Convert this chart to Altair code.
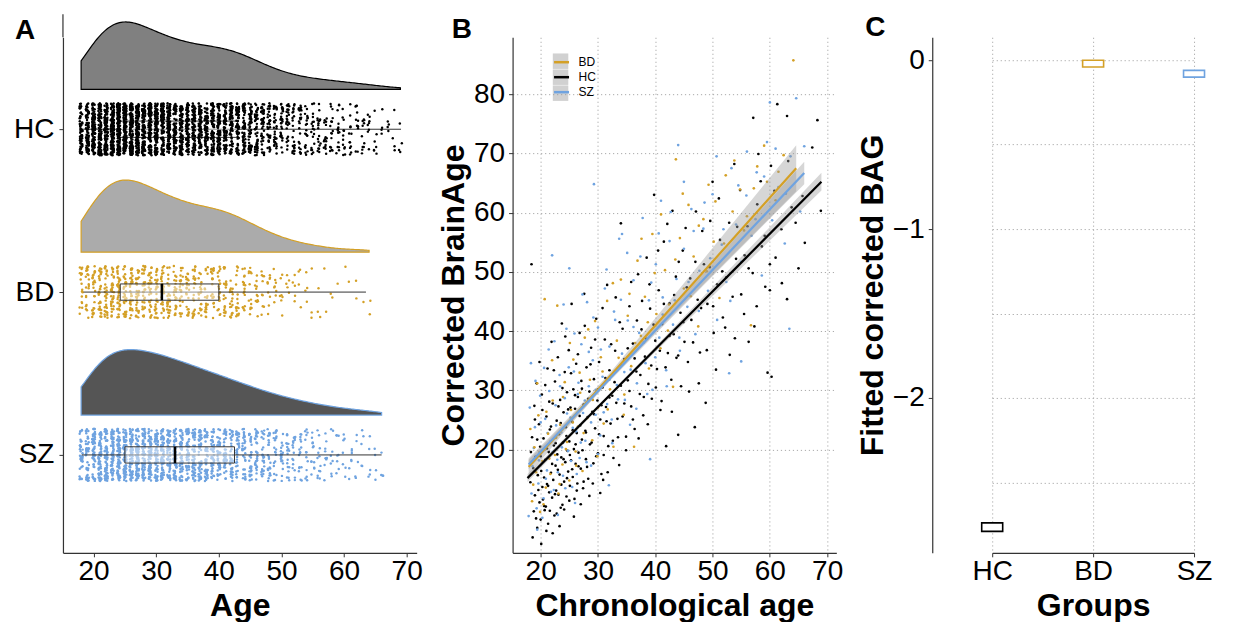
import math
import altair as alt
import pandas as pd

# ---------------- data ----------------
GROUPS = ["HC", "BD", "SZ"]
COLORS = ["#000000", "#D4A026", "#6FA3E0"]
DENS_FILL = ["#808080", "#ABABAB", "#555555"]
LANE = {"HC": 3, "BD": 2, "SZ": 1}

# Panel A: number of participants per (integer) age
hc_ages = list(range(18, 70))
hc_counts = [61, 77, 92, 105, 117, 126, 130, 130, 126, 117,
             112, 105, 101, 96, 92, 88, 84, 81, 80, 77,
             77, 76, 76, 73, 72, 68, 61, 57, 51, 45,
             39, 35, 31, 27, 24, 23, 20, 19, 19, 16,
             16, 15, 12, 12, 11, 11, 8, 7, 4, 4,
             4, 4]
bd_ages = list(range(18, 65))
bd_counts = [18, 22, 26, 30, 33, 35, 36, 36, 35, 34,
             31, 30, 29, 27, 26, 25, 23, 22, 22, 21,
             21, 21, 20, 20, 18, 17, 16, 13, 12, 10,
             9, 8, 7, 5, 5, 4, 4, 3, 3, 2,
             2, 1, 1, 1, 2, 1, 2]
sz_ages = list(range(18, 67))
sz_counts = [37, 47, 55, 62, 67, 71, 72, 72, 72, 71,
             68, 67, 66, 64, 62, 59, 58, 54, 52, 49,
             47, 46, 42, 41, 37, 35, 34, 30, 29, 25,
             24, 22, 20, 18, 17, 16, 13, 12, 12, 10,
             8, 8, 7, 7, 5, 5, 5, 4, 4]

# Panel A boxplot statistics (HC, BD, SZ)
box_q1 = [24.0, 24.25, 25.0]
box_med = [32.0, 30.9, 33.0]
box_q3 = [43.0, 40.0, 42.5]
box_min = [18.0, 18.4, 18.1]
box_max = [69.1, 63.5, 66.0]

# Panel B: (chronological age, corrected brain age)
hc_pairs = [(18.2,14.5),(18.4,51.3),(18.5,22.1),(18.8,9.6),(18.9,27.4),(19.0,12.3),(19.1,18.8),(19.3,31.2),
 (19.4,6.8),(19.5,15.7),(19.7,24.3),(19.8,11.1),(19.9,20.5),(20.0,8.2),(20.1,16.4),(20.2,29.3),(20.3,13.7),
 (20.5,21.9),(20.6,10.5),(20.7,9.8),(20.8,18.3),(20.9,10.4),(21.0,25.6),(21.1,14.2),(21.2,33.7),(21.3,7.5),
 (21.4,19.6),(21.5,12.8),(21.6,23.4),(21.8,16.1),(21.9,38.2),(22.0,11.9),(22.1,27.8),(22.2,14.9),(22.3,20.7),
 (22.4,8.9),(22.5,31.5),(22.6,17.3),(22.7,13.1),(22.8,24.9),(22.9,19.2),(23.0,35.6),(23.1,12.4),(23.2,22.6),
 (23.3,15.8),(23.4,28.4),(23.5,10.2),(23.6,18.7),(23.7,41.3),(23.8,10.7),(23.9,21.2),(24.0,26.3),(24.1,14.6),
 (24.2,33.1),(24.3,17.9),(24.4,23.8),(24.5,12.1),(24.6,29.7),(24.7,19.8),(24.8,16.3),(24.9,36.8),(25.0,21.4),
 (25.1,13.9),(25.2,27.1),(25.3,18.2),(25.4,44.6),(25.5,24.7),(25.6,15.4),(25.7,30.2),(25.8,20.1),(25.9,11.7),
 (26.0,26.9),(26.1,17.6),(26.2,34.5),(26.3,22.8),(26.4,14.3),(26.5,28.9),(26.6,19.5),(26.8,39.7),(26.9,24.1),
 (27.0,16.8),(27.1,31.6),(27.2,21.7),(27.4,13.5),(27.5,27.6),(27.6,46.3),(27.8,23.2),(27.9,18.4),(28.0,33.9),
 (28.2,25.5),(28.3,15.1),(28.5,29.8),(28.6,20.9),(28.8,37.2),(29.0,26.4),(29.2,17.7),(29.3,31.9),(29.5,23.6),
 (29.7,42.1),(29.9,28.3),(30.0,19.4),(30.2,34.8),(30.4,25.1),(30.6,15.9),(30.8,30.5),(30.9,14.9),(31.0,22.3),
 (31.2,38.6),(31.4,27.2),(31.6,47.8),(31.8,20.6),(32.0,33.4),(32.2,24.4),(32.5,29.1),(32.7,18.6),(33.0,36.7),
 (33.2,27.9),(33.5,22.1),(33.8,41.5),(34.0,58.2),(34.0,30.8),(34.3,25.6),(34.6,35.3),(34.9,19.9),(35.2,31.7),
 (35.5,44.2),(35.8,27.3),(36.1,37.9),(36.4,23.5),(36.7,33.2),(37.0,49.6),(37.3,29.4),(37.6,40.3),(37.9,25.8),
 (38.2,35.7),(38.5,52.4),(38.8,31.1),(39.1,43.8),(39.4,28.6),(39.8,63.0),(40.0,38.4),(40.3,33.6),(40.6,46.9),
 (40.9,26.7),(41.2,41.2),(41.5,55.1),(41.9,20.6),(42.2,36.3),(42.5,44.7),(42.8,31.8),(43.0,60.3),(43.2,39.5),
 (43.6,49.2),(44.0,22.5),(44.0,35.9),(44.4,43.1),(44.8,53.6),(45.1,38.2),(45.5,47.4),(45.9,29.8),(46.3,41.9),
 (46.9,23.8),(47.0,51.7),(47.4,45.3),(47.8,36.4),(48.2,56.9),(48.8,27.9),(49.1,44.6),(49.5,50.8),(50.0,65.2),
 (50.2,39.7),(50.8,47.9),(51.3,55.4),(51.8,42.3),(52.4,49.1),(53.0,36.0),(53.8,68.2),(53.9,38.8),(54.3,57.6),
 (55.0,46.2),(55.6,52.8),(56.3,38.2),(56.3,50.6),(57.1,76.0),(57.3,40.8),(57.8,61.4),(58.0,69.9),(58.6,54.3),
 (59.2,47.5),(59.6,33.0),(60.0,51.3),(60.0,46.9),(60.3,32.3),(60.8,63.7),(61.3,78.3),(62.0,57.2),(63.0,76.3),
 (63.0,45.4),(63.8,60.9),(65.0,50.6),(65.7,62.8),(67.4,71.0),(68.3,75.6),(68.9,60.3),
 (18.3,19.6),(18.6,5.2),(18.7,16.9),(19.0,25.1),(19.2,8.4),(19.4,21.7),(19.6,13.2),(19.8,34.8),(20.0,18.9),(20.1,4.1),
 (20.3,26.7),(20.4,11.6),(20.6,15.3),(20.8,30.9),(21.0,6.3),(21.1,20.2),(21.3,13.9),(21.5,28.1),(21.6,9.7),(21.8,23.9),
 (22.0,17.6),(22.1,5.9),(22.3,33.4),(22.5,12.5),(22.6,21.1),(22.8,9.2),(23.0,16.6),(23.1,27.3),(23.3,7.1),(23.5,24.5),
 (23.6,14.1),(23.8,30.4),(24.0,18.4),(24.1,9.9),(24.3,39.1),(24.5,22.3),(24.6,15.2),(24.8,26.8),(25.0,11.4),(25.1,19.1),
 (25.3,32.9),(25.5,16.7),(25.6,23.3),(25.8,8.7),(26.0,29.2),(26.1,20.9),(26.3,13.1),(26.5,36.1),(26.6,17.2),(26.8,25.7),
 (27.0,10.8),(27.2,30.3),(27.3,19.9),(27.5,14.6),(27.7,40.9),(27.9,22.9),(28.1,17.1),(28.3,28.6),(28.5,12.2),(28.7,34.4),
 (28.9,21.2),(29.1,14.3),(29.3,26.0),(29.5,38.6),(29.7,18.9),(30.0,30.2),(30.2,22.6),(30.4,12.7),(30.6,27.5),(30.8,43.9),
 (31.0,19.1),(31.3,32.1),(31.5,24.8),(31.7,16.2),(32.0,28.8),(32.3,37.8),(32.6,21.5),(32.9,31.4),(33.1,45.7),(33.4,25.2),
 (33.7,17.4),(34.0,34.2),(34.3,40.4),(34.6,27.8),(34.9,22.2),(35.2,37.1),(35.5,29.9),(35.8,48.3),(36.1,25.1),(36.4,35.4),
 (36.8,41.8),(37.1,21.9),(37.4,32.6),(37.7,45.1),(38.0,28.9),(38.4,38.7),(38.7,24.3),(39.0,47.9),(39.3,34.2),(39.7,41.1),
 (40.1,30.5),(40.5,53.6),(40.8,36.7),(41.1,28.2),(41.5,44.6),(41.8,33.9),(42.1,58.1),(42.5,39.2),(42.9,26.4),(43.3,46.1),
 (43.7,35.5),(44.1,51.7),(44.5,30.7),(44.9,41.5),(45.3,57.4),(45.7,34.8),(46.1,48.9),(46.6,38.1),(47.1,60.2),(47.6,31.2),
 (48.0,43.9),(48.5,51.3),(49.0,36.8),(49.6,58.6),(50.1,44.2),(50.6,33.5),(51.1,62.4),(51.7,50.1),(52.2,40.6),(52.9,58.3),
 (53.5,45.8),(54.1,52.2),(54.8,63.8),(55.5,42.9),(56.1,57.7),(57.0,49.8),(57.7,44.2),(58.4,65.3),(59.1,56.1),(60.2,67.9),
 (61.0,52.4),(62.1,48.1),(63.2,68.7),(64.5,58.3),(66.1,54.9)]
bd_pairs = [(18.5,11.3),(18.9,20.4),(19.2,16.2),(19.6,25.8),(19.9,9.5),(20.3,18.1),(20.7,45.4),(20.9,13.6),
 (21.3,22.7),(21.7,15.9),(22.1,28.3),(22.5,19.1),(22.9,44.3),(23.1,12.6),(23.4,24.2),(23.8,17.5),(24.2,31.4),
 (24.6,21.3),(25.0,14.8),(25.3,26.7),(25.7,35.2),(26.1,19.7),(26.5,23.9),(26.9,29.6),(27.3,16.4),(27.7,38.9),
 (28.1,25.3),(28.6,31.8),(29.0,21.6),(29.5,41.7),(30.0,27.1),(30.5,35.6),(31.0,24.4),(31.6,45.1),(32.1,30.2),
 (32.7,20.5),(33.3,38.4),(34.0,48.7),(34.6,29.3),(35.2,42.6),(35.8,34.1),(36.3,20.5),(36.9,51.9),(37.5,39.2),
 (38.2,45.8),(38.9,33.7),(39.5,56.4),(40.2,42.9),(40.9,37.1),(41.7,50.3),(42.4,44.5),(43.1,30.6),(43.6,69.0),
 (44.3,55.7),(45.0,47.2),(45.8,61.3),(46.7,52.6),(47.5,40.8),(48.4,58.9),(49.3,64.7),(50.2,55.1),(51.2,45.6),
 (52.3,66.3),(53.5,60.2),(54.8,63.9),(56.0,59.4),(56.7,41.0),(57.8,67.8),(59.5,65.2),(61.0,62.1),(62.4,69.7),
 (64.1,85.7),
 (18.2,23.5),(18.7,14.1),(19.4,31.2),(19.8,19.6),(20.5,10.8),(21.0,26.4),(21.5,18.5),(22.0,35.1),(22.7,22.0),(23.3,14.2),
 (23.9,28.9),(24.4,20.1),(25.1,38.0),(25.6,24.6),(26.2,17.3),(26.8,33.0),(27.5,22.8),(28.3,40.3),(29.1,28.4),(29.9,18.9),
 (30.8,33.2),(31.7,26.8),(32.6,48.1),(33.6,35.5),(34.5,25.9),(35.5,46.3),(36.5,38.0),(37.6,55.6),(38.7,41.5),(39.9,49.8),
 (41.0,59.7),(42.2,40.1),(43.5,52.1),(44.8,63.2),(46.2,45.9),(47.6,57.8),(49.0,50.1),(50.5,61.9),(52.0,54.8),(53.8,68.8),
 (55.5,57.0),(57.2,64.1),(59.0,71.3),(61.5,66.9)]
sz_pairs = [(17.9,8.8),(18.3,34.6),(18.6,17.2),(19.0,23.8),(19.4,6.5),(19.6,14.3),(19.9,29.1),(20.2,19.7),
 (20.5,11.8),(20.8,25.2),(21.1,16.5),(21.4,36.9),(21.7,21.4),(22.0,52.8),(22.3,13.2),(22.6,27.5),(22.9,18.3),
 (23.0,9.0),(23.3,32.6),(23.6,22.9),(23.9,15.6),(24.2,28.7),(24.5,40.4),(24.8,19.8),(25.0,50.6),(25.2,25.4),
 (25.5,13.7),(25.8,33.2),(26.0,11.0),(26.2,23.1),(26.5,29.4),(26.8,18.6),(27.1,37.8),(27.4,26.2),(27.8,21.5),
 (28.1,44.9),(28.4,30.7),(28.8,17.3),(29.1,35.1),(29.3,64.8),(29.6,25.9),(30.0,40.6),(30.4,22.4),(30.8,32.3),
 (31.2,47.2),(31.6,27.7),(31.9,14.0),(32.0,37.4),(32.4,25.1),(32.8,43.3),(33.3,30.9),(33.7,55.6),(34.2,56.4),
 (34.2,36.2),(34.7,28.4),(35.2,41.8),(35.7,33.5),(36.2,48.6),(36.7,26.9),(37.2,39.7),(37.8,59.1),(38.3,34.6),
 (38.9,45.2),(39.1,18.4),(39.5,30.1),(40.1,51.3),(40.7,38.9),(41.0,62.0),(41.3,45.7),(41.9,33.4),(42.5,55.2),
 (43.1,41.1),(43.7,48.8),(44.0,71.4),(44.3,36.7),(45.0,53.9),(45.6,44.1),(46.3,60.6),(47.0,39.5),(47.7,50.2),
 (48.4,57.3),(49.2,46.8),(50.0,63.1),(50.8,41.9),(51.6,54.6),(52.4,48.3),(52.9,32.9),(53.3,67.5),(54.1,58.0),
 (55.0,34.9),(55.0,51.7),(55.9,62.9),(56.8,56.1),(57.7,66.8),(58.6,49.4),(59.5,71.9),(60.0,78.6),(60.4,58.7),
 (61.5,64.3),(62.6,54.8),(63.4,40.4),(63.6,69.5),(64.6,79.3),(65.3,60.2),(66.0,71.2),
 (18.1,27.1),(18.4,12.6),(18.8,20.3),(19.1,31.6),(19.3,10.1),(19.7,18.2),(20.0,24.6),(20.3,8.5),(20.6,33.8),(20.9,15.1),
 (21.2,22.8),(21.5,29.9),(21.8,12.9),(22.1,19.6),(22.4,38.3),(22.7,24.1),(23.0,16.2),(23.4,30.7),(23.7,20.4),(24.0,44.5),
 (24.3,13.5),(24.6,26.1),(24.9,33.9),(25.3,18.1),(25.6,23.7),(25.9,39.6),(26.3,15.9),(26.6,31.3),(27.0,21.2),(27.3,46.2),
 (27.7,28.3),(28.0,17.9),(28.4,36.5),(28.8,24.6),(29.2,42.3),(29.6,30.1),(30.0,19.2),(30.5,36.9),(31.0,26.3),(31.5,50.4),
 (32.0,31.8),(32.5,21.1),(33.0,41.9),(33.5,28.5),(34.0,45.3),(34.6,33.1),(35.1,53.2),(35.6,24.2),(36.2,40.7),(36.8,31.2),
 (37.4,52.6),(38.0,38.1),(38.6,29.4),(39.3,48.2),(40.0,35.6),(40.6,56.5),(41.3,42.8),(42.0,30.7),(42.7,60.1),(43.4,45.2),
 (44.2,38.9),(45.0,65.2),(45.8,48.3),(46.7,56.9),(47.6,43.4),(48.6,61.7),(49.6,52.3),(50.7,69.5),(51.9,57.2),(53.1,45.1),
 (54.5,64.6),(56.0,70.3),(57.5,58.9),(59.0,66.1),(61.0,70.8),(62.8,63.2)]

# Panel B: fitted lines and 95% bands
fit_bd_x = [17.9, 25, 32, 40, 48, 56, 64.6]
fit_bd_y = [17.1, 24.76, 32.31, 40.95, 49.58, 58.21, 67.49]
fit_bd_hw = [1.44, 0.75, 0.55, 1.22, 2.07, 2.95, 3.9]
fit_hc_x = [17.7, 25, 32, 40, 48, 56, 69.0]
fit_hc_y = [15.2, 22.32, 29.14, 36.94, 44.74, 52.54, 65.22]
fit_hc_hw = [0.64, 0.41, 0.30, 0.44, 0.70, 1.0, 1.5]
fit_sz_x = [17.9, 25, 32, 40, 48, 56, 66.0]
fit_sz_y = [17.5, 24.76, 31.92, 40.11, 48.29, 56.48, 66.7]
fit_sz_hw = [0.8, 0.51, 0.40, 0.62, 0.98, 1.38, 1.9]

# Panel C: fitted corrected BAG (box low / high)
c_low = [-2.79, -0.04, -0.10]
c_high = [-2.74, 0.0, -0.06]

# ---------------- tables ----------------
def _frac(v):
    return v - math.floor(v)

rows = []
i = 0
for g, ages, counts in [("HC", hc_ages, hc_counts), ("BD", bd_ages, bd_counts), ("SZ", sz_ages, sz_counts)]:
    for a, c in zip(ages, counts):
        for _ in range(c):
            jx = (_frac(math.sin(i * 12.9898 + 1.7) * 43758.5453) - 0.5) * 0.5
            jy = (_frac(math.sin(i * 78.233 + 4.1) * 43758.5453) - 0.5) * 0.32
            rows.append({"group": g, "age": a, "ax": a + jx, "ay": LANE[g] + jy})
            i += 1
ptsA = pd.DataFrame(rows)

boxA = pd.DataFrame({"group": GROUPS, "q1": box_q1, "med": box_med, "q3": box_q3,
                     "lo": box_min, "hi": box_max, "lane": [LANE[g] for g in GROUPS]})

ptsB = pd.concat([
    pd.DataFrame(hc_pairs, columns=["age", "ba"]).assign(group="HC"),
    pd.DataFrame(sz_pairs, columns=["age", "ba"]).assign(group="SZ"),
    pd.DataFrame(bd_pairs, columns=["age", "ba"]).assign(group="BD"),
], ignore_index=True)

fitB = pd.concat([
    pd.DataFrame({"fx": fit_bd_x, "fy": fit_bd_y, "hw": fit_bd_hw, "group": "BD"}),
    pd.DataFrame({"fx": fit_hc_x, "fy": fit_hc_y, "hw": fit_hc_hw, "group": "HC"}),
    pd.DataFrame({"fx": fit_sz_x, "fy": fit_sz_y, "hw": fit_sz_hw, "group": "SZ"}),
], ignore_index=True)
fitB["band"] = fitB["group"]

dfC = pd.DataFrame({"group": GROUPS, "low": c_low, "high": c_high})

# ---------------- panel A ----------------
xsA = alt.Scale(domain=[15.1, 71.6], nice=False, zero=False)
ysA = alt.Scale(domain=[0.399, 3.565], nice=False, zero=False)
axA_x = alt.Axis(values=[20, 30, 40, 50, 60, 70], grid=False, title="Age", labelPadding=1, titlePadding=5)
axA_y = alt.Axis(values=[1, 2, 3], grid=False, title=None, labelPadding=5,
                 labelExpr="datum.value == 3 ? 'HC' : datum.value == 2 ? 'BD' : 'SZ'")

DENS_SCALE = 10.5
layersA = []
for gi, g in enumerate(GROUPS):
    ages = {"HC": hc_ages, "BD": bd_ages, "SZ": sz_ages}[g]
    base = LANE[g] + 0.245
    layersA.append(
        alt.Chart(ptsA[ptsA.group == g][["age"]])
        .transform_density("age", as_=["dx", "dens"], extent=[min(ages), max(ages)], bandwidth=2.7, steps=200)
        .transform_calculate(ytop=f"{base} + datum.dens * {DENS_SCALE}", ybase=f"{base}")
        .mark_area(fill=DENS_FILL[gi], stroke=COLORS[gi], strokeWidth=1.2)
        .encode(x=alt.X("dx:Q", scale=xsA, axis=axA_x), y=alt.Y("ytop:Q", scale=ysA, axis=axA_y), y2="ybase:Q")
    )

def box_layers(df):
    whisk = alt.Chart(df).mark_rule(color="#333333", strokeWidth=1).encode(
        x=alt.X("lo:Q", scale=xsA, axis=axA_x), x2="hi:Q", y=alt.Y("lane:Q", scale=ysA, axis=axA_y))
    box = alt.Chart(df).transform_calculate(b0="datum.lane - 0.05", b1="datum.lane + 0.05").mark_bar(
        fill="#FFFFFF", fillOpacity=0.45, stroke="#333333", strokeWidth=1).encode(
        x=alt.X("q1:Q", scale=xsA, axis=axA_x), x2="q3:Q", y=alt.Y("b0:Q", scale=ysA, axis=axA_y), y2="b1:Q")
    med = alt.Chart(df).transform_calculate(b0="datum.lane - 0.05", b1="datum.lane + 0.05").mark_rule(
        color="#000000", strokeWidth=2.5).encode(
        x=alt.X("med:Q", scale=xsA, axis=axA_x), y=alt.Y("b0:Q", scale=ysA, axis=axA_y), y2="b1:Q")
    return [whisk, box, med]

ptsA_layer = alt.Chart(ptsA).mark_circle(size=6, opacity=1).encode(
    x=alt.X("ax:Q", scale=xsA, axis=axA_x), y=alt.Y("ay:Q", scale=ysA, axis=axA_y),
    color=alt.Color("group:N", scale=alt.Scale(domain=GROUPS, range=COLORS), legend=None))

axis_ext = alt.Chart(pd.DataFrame({"x": [15.1], "y": [3.565], "y2": [3.706]})).mark_rule(
    color="#333333", strokeWidth=1.2).encode(
    x=alt.X("x:Q", scale=xsA, axis=axA_x), y=alt.Y("y:Q", scale=ysA, axis=axA_y), y2="y2:Q")

A = alt.layer(*layersA, *box_layers(boxA[boxA.group == "HC"]), ptsA_layer,
              *box_layers(boxA[boxA.group != "HC"]), axis_ext).properties(
    width=354, height=516,
    title=alt.TitleParams("A", anchor="start", frame="group", dx=-48, offset=-53, fontSize=28,
                          fontWeight="bold", baseline="alphabetic"))

# ---------------- panel B ----------------
xsB = alt.Scale(domain=[15.1, 71.6], nice=False, zero=False)
ysB = alt.Scale(domain=[2.6, 89.6], nice=False, zero=False)
axB_x = alt.Axis(values=[20, 30, 40, 50, 60, 70], grid=True, title="Chronological age", labelPadding=1, titlePadding=5)
axB_y = alt.Axis(values=[20, 30, 40, 50, 60, 70, 80], grid=True, title="Corrected BrainAge", labelPadding=4, titlePadding=3)

ptsB_layer = alt.Chart(ptsB).mark_circle(size=7, opacity=1).encode(
    x=alt.X("age:Q", scale=xsB, axis=axB_x), y=alt.Y("ba:Q", scale=ysB, axis=axB_y),
    color=alt.Color("group:N", scale=alt.Scale(domain=GROUPS, range=COLORS), legend=None))

LEG_X, LEG_Y = 490, 16
band_layer = alt.Chart(fitB).transform_calculate(lo="datum.fy - datum.hw", up="datum.fy + datum.hw").mark_area(
    fillOpacity=0.4).encode(
    x=alt.X("fx:Q", scale=xsB, axis=axB_x), y=alt.Y("lo:Q", scale=ysB, axis=axB_y), y2="up:Q",
    detail="group:N",
    fill=alt.Fill("band:N", scale=alt.Scale(domain=["BD", "HC", "SZ"], range=["#999999", "#999999", "#999999"]),
                  legend=alt.Legend(orient="none", legendX=LEG_X, legendY=LEG_Y, title=None, symbolType="square",
                                    symbolSize=240, symbolStrokeWidth=0, symbolOpacity=0.45, labelExpr="''",
                                    labelFontSize=12, labelOffset=8, padding=0, rowPadding=0)))

line_layer = alt.Chart(fitB).mark_line(strokeWidth=2.2).encode(
    x=alt.X("fx:Q", scale=xsB, axis=axB_x), y=alt.Y("fy:Q", scale=ysB, axis=axB_y),
    stroke=alt.Stroke("group:N", scale=alt.Scale(domain=["BD", "HC", "SZ"], range=[COLORS[1], COLORS[0], COLORS[2]]),
                      legend=alt.Legend(orient="none", legendX=LEG_X, legendY=LEG_Y, title=None, symbolType="stroke",
                                        symbolSize=225, symbolStrokeWidth=2.5, labelFontSize=12, labelOffset=8,
                                        padding=0, rowPadding=0, labelColor="#000000")))

B = alt.layer(ptsB_layer, band_layer, line_layer).properties(
    width=324, height=516,
    title=alt.TitleParams("B", anchor="start", frame="group", dx=-61, offset=-29, fontSize=28,
                          fontWeight="bold", baseline="alphabetic"))

# ---------------- panel C ----------------
axC_y = alt.Axis(values=[-2.5, -2, -1.5, -1, -0.5, 0], grid=True, title="Fitted corrected BAG",
                 labelPadding=4, titlePadding=3,
                 labelExpr="datum.value % 1 == 0 ? format(datum.value, 'd') : ''",
                 tickOpacity={"condition": {"test": "datum.value % 1 == 0", "value": 1}, "value": 0})
C = alt.Chart(dfC).mark_bar(fill="#FFFFFF", strokeWidth=1.6, size=21).encode(
    x=alt.X("group:N", scale=alt.Scale(type="point", domain=GROUPS, range=[60, 262], padding=0),
            axis=alt.Axis(grid=True, title="Groups", labelAngle=0, labelPadding=1, titlePadding=5, titleX=161)),
    y=alt.Y("high:Q", scale=alt.Scale(domain=[-2.917, 0.136], nice=False, zero=False), axis=axC_y),
    y2="low:Q",
    stroke=alt.Stroke("group:N", scale=alt.Scale(domain=GROUPS, range=COLORS), legend=None),
).properties(
    width=303, height=516,
    title=alt.TitleParams("C", anchor="start", frame="group", dx=-67, offset=-27, fontSize=28,
                          fontWeight="bold", baseline="alphabetic"))

chart = alt.hconcat(A, B, C, spacing=96, bounds="flush").configure(
    font="Liberation Sans", padding={"left": 5, "top": 5, "right": 0, "bottom": 0}
).configure_view(strokeWidth=0).configure_axis(
    domainColor="#333333", domainWidth=1.2, tickColor="#333333", tickSize=4, tickWidth=1,
    labelFontSize=28, labelColor="#000000", labelFont="Liberation Sans",
    titleFontSize=32, titleFontWeight="bold", titleColor="#000000", titleFont="Liberation Sans",
    gridColor="#AAAAAA", gridDash=[1.2, 2.8], gridWidth=1
).configure_legend(labelFont="Liberation Sans")

chart.save("out.html", embed_options={"renderer": "svg", "actions": False})
